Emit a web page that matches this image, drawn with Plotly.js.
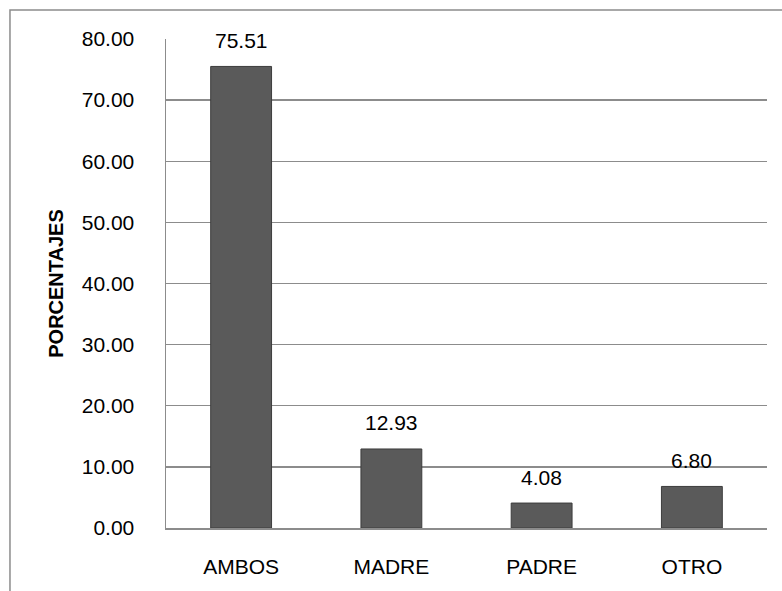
<!DOCTYPE html>
<html>
<head>
<meta charset="utf-8">
<script src="https://cdn.plot.ly/plotly-3.0.1.min.js"></script>
<style>html,body{margin:0;padding:0;background:#fff;}#chart{width:782px;height:591px;}</style>
</head>
<body>
<div id="chart"></div>
<script>
const categories = ["AMBOS", "MADRE", "PADRE", "OTRO"];
const values = [75.51, 12.93, 4.08, 6.80];
const labels = ["75.51", "12.93", "4.08", "6.80"];
const yTicks = [0, 10, 20, 30, 40, 50, 60, 70, 80];

const FONT = "Liberation Sans, Arial, sans-serif";

const trace = {
  type: "bar",
  x: categories,
  y: values,
  marker: { color: "#5a5a5a", line: { color: "#3c3c3c", width: 1 } },
  hoverinfo: "none"
};

const annotations = categories.map((c, i) => ({
  x: c, y: values[i], xref: "x", yref: "y",
  text: labels[i], showarrow: false,
  yanchor: "middle", yshift: 26,
  font: { family: FONT, size: 21, color: "#000" }
}));

const layout = {
  width: 782, height: 591,
  margin: { l: 166, r: 15, t: 39, b: 63 },
  paper_bgcolor: "#fff", plot_bgcolor: "#fff",
  showlegend: false,
  bargap: 0.595,
  font: { family: FONT, size: 21, color: "#000" },
  xaxis: {
    type: "category",
    showline: true, linecolor: "#8c8c8c", linewidth: 1.5,
    ticks: "", ticklabelstandoff: 19,
    tickfont: { family: FONT, size: 21, color: "#000" },
    showgrid: false, fixedrange: true
  },
  yaxis: {
    range: [0, 80],
    tickvals: yTicks,
    tickformat: ".2f",
    showline: true, linecolor: "#8c8c8c", linewidth: 1.5,
    showgrid: true, gridcolor: "#8c8c8c", gridwidth: 1.3,
    zeroline: false,
    ticks: "", ticklabelstandoff: 26,
    tickfont: { family: FONT, size: 21, color: "#000" },
    title: { text: "<b>PORCENTAJES</b>", font: { family: FONT, size: 20, color: "#000" }, standoff: 12 },
    fixedrange: true
  },
  annotations: annotations,
  shapes: [{
    type: "rect", xref: "paper", yref: "paper",
    x0: -0.2596, x1: 1.04, y0: -0.15, y1: 1.0593,
    line: { color: "#8c8c8c", width: 1.5 }, fillcolor: "rgba(0,0,0,0)", layer: "below"
  }]
};

Plotly.newPlot("chart", [trace], layout, { displayModeBar: false, staticPlot: true });
</script>
</body>
</html>
